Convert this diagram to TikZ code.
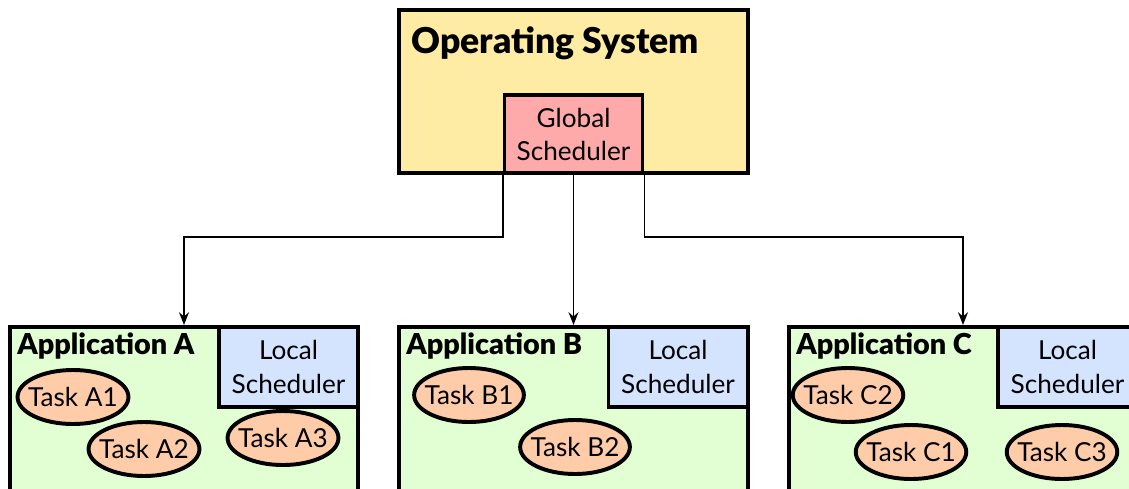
\documentclass[tikz,border=0pt]{standalone}
\usepackage{fontspec}
\setmainfont{Lato}[BoldFont={Lato Black}]
\usetikzlibrary{arrows.meta,shapes.geometric,positioning}
\definecolor{oscolor}{RGB}{255,236,164}
\definecolor{globalcolor}{RGB}{255,170,170}
\definecolor{appcolor}{RGB}{226,255,212}
\definecolor{localcolor}{RGB}{212,228,255}
\definecolor{taskcolor}{RGB}{255,204,170}

\begin{document}
\begin{tikzpicture}[x=0.025cm,y=-0.025cm,>={Stealth[length=9pt,width=7pt]},
  every node/.style={font=\fontsize{18.6pt}{23.5pt}\selectfont}]
\tikzset{box/.style={draw=black,line width=2.8pt,inner sep=0pt,align=center},
  appbox/.style={box,fill=appcolor,anchor=north,minimum width=8.7cm,minimum height=5cm},
  localbox/.style={box,fill=localcolor,anchor=north east,minimum width=3.475cm,minimum height=2cm},
  task/.style={draw=black,ellipse,line width=2.8pt,fill=taskcolor,inner xsep=-4pt,inner ysep=0pt,
    minimum width=2.7cm,minimum height=1.35cm},
  applabel/.style={anchor=base west,inner sep=0pt,font=\fontsize{20.5pt}{23.5pt}\selectfont\bfseries},
  link/.style={->,line width=1.4pt}}
\useasboundingbox (0,0) rectangle (1129,488);
\clip (0,0) rectangle (1129,488);

% operating system
\node[box,fill=oscolor,minimum width=8.725cm,minimum height=4.075cm] (os) at (573.5,91.5) {};
\node[anchor=base west,inner sep=0pt,font=\fontsize{25.3pt}{28pt}\selectfont\bfseries] (ostitle) at (411,53) {Operating System};
\node[box,fill=globalcolor,anchor=south,minimum width=3.45cm,minimum height=1.95cm] (gs) at (os.south) {Global\\Scheduler};

% applications
\node[appbox] (appA) at (184,325) {};
\node[appbox] (appB) at (573.5,325) {};
\node[appbox] (appC) at (963,325) {};
\node[localbox] (locA) at (appA.north east) {Local\\Scheduler};
\node[localbox] (locB) at (appB.north east) {Local\\Scheduler};
\node[localbox] (locC) at (appC.north east) {Local\\Scheduler};
\node[applabel] (lblA) at (17,354) {Application A};
\node[applabel] (lblB) at (406,354) {Application B};
\node[applabel] (lblC) at (796,354) {Application C};

% tasks
\node[task] (tA1) at (73,397) {Task A1};
\node[task] (tA2) at (144,449) {Task A2};
\node[task] (tA3) at (283,438) {Task A3};
\node[task] (tB1) at (469,395) {Task B1};
\node[task] (tB2) at (575,447) {Task B2};
\node[task] (tC2) at (848,395) {Task C2};
\node[task] (tC1) at (911,452) {Task C1};
\node[task] (tC3) at (1062,452) {Task C3};

% scheduling links
\draw[link] (gs.south west) -- ++(0,62) -| (appA.north);
\draw[link] (gs.south) -- (appB.north);
\draw[link] (gs.south east) -- ++(0,62) -| (appC.north);
\end{tikzpicture}
\end{document}
